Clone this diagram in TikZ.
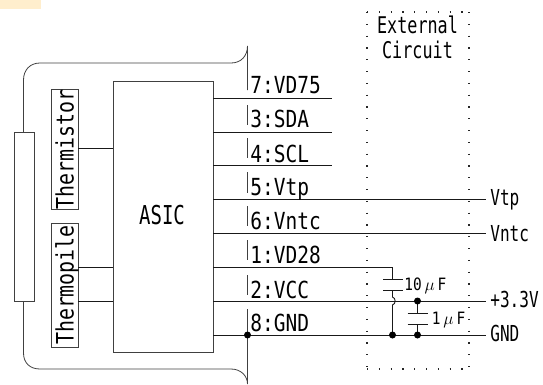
\documentclass[tikz,border=0pt]{standalone}
\usepackage{fontspec}
\newfontfamily\wideg[FakeStretch=0.83]{DejaVu Sans Mono}
\newfontfamily\narrowg[FakeStretch=0.73]{DejaVu Sans Mono}
\newfontfamily\capg[FakeStretch=0.85]{DejaVu Sans Mono}
\definecolor{tabcol}{RGB}{255,238,205}
\begin{document}
\begin{tikzpicture}[x=1pt,y=-1pt,line width=0.8pt,
  box/.style={draw=black!75,line width=0.9pt,fill=white},
  wire/.style={draw=black!90,line width=0.9pt},
  pin/.style={inner sep=0pt,anchor=base west,font=\wideg\fontsize{23.5}{23.5}\selectfont},
  extl/.style={inner sep=0pt,anchor=base west,font=\narrowg\fontsize{22}{22}\selectfont},
  sens/.style={inner sep=0pt,anchor=base,rotate=90,font=\wideg\fontsize{24}{24}\selectfont},
  dotj/.style={circle,fill=black,inner sep=0pt,minimum size=7pt},
  frame/.style={draw=black!75,line width=0.8pt},
  ext/.style={draw=black!85,line width=1.2pt,dash pattern=on 1.2pt off 10.6pt}]
\useasboundingbox (0,0) rectangle (543,384);
\fill[tabcol] (0,0) rectangle (41,9);
% housing
\coordinate (ht) at (23.5,132);
\coordinate (hb) at (23.5,301);
\draw[frame] (ht) -- (23.5,80) .. controls (23.5,70) and (30,63) .. (40,63) -- (231,63) .. controls (241,63) and (247.5,56) .. (247.5,46) -- (247.5,90);
\draw[frame] (hb) -- (23.5,353) .. controls (23.5,363) and (30,369) .. (40,369) -- (231,369) .. controls (241,369) and (247.5,376) .. (247.5,384) -- (247.5,309);
\foreach \a/\b in {105/125,138/158,172/193,206/226,240/260,275/295} \draw[frame] (247.5,\a) -- (247.5,\b);
\node[box,minimum width=20pt,minimum height=169pt,inner sep=0pt,anchor=north west] (lens) at (14,132) {};
\node[box,minimum width=100.5pt,minimum height=271.5pt,inner sep=0pt,anchor=north west] (asic) at (112.5,80.5) {};
\node[font=\narrowg\fontsize{26}{26}\selectfont,inner sep=0pt,anchor=base] at (162,224) {ASIC};
\node[box,minimum width=27pt,minimum height=120pt,inner sep=0pt,anchor=north west] (tr) at (51,89) {};
\node[box,minimum width=27pt,minimum height=124pt,inner sep=0pt,anchor=north west] (tp) at (51,223) {};
\node[sens] at (73.5,149.5) {Thermistor};
\node[sens] at (73.5,285) {Thermopile};
\foreach \y in {148,267,301} \draw[wire] (78,\y) -- (112.5,\y);
% pins
\foreach \y/\e in {98/332,132/332,165/332,199/486,233/486,267/392.5,301/486,335/486} \draw[wire] (213,\y) -- (\e,\y);
\foreach \t/\y in {7:VD75/93,3:SDA/127,4:SCL/162,5:Vtp/195,6:Vntc/229,1:VD28/263,2:VCC/298,8:GND/331}
  \node[pin] at (250,\y) {\t};
% external circuit
\draw[ext] (367,12) -- (469,12);
\draw[ext] (367,369) -- (469,369);
\draw[ext] (367,12) -- (367,369);
\draw[ext] (469,12) -- (469,369);
\node[font=\narrowg\fontsize{23}{23}\selectfont,inner sep=0pt,anchor=base] at (417.5,33) {External};
\node[font=\narrowg\fontsize{23}{23}\selectfont,inner sep=0pt,anchor=base] at (417.5,58) {Circuit};
% capacitors
\coordinate (c1t) at (392.5,279);
\coordinate (c1b) at (392.5,290);
\coordinate (c2t) at (417.5,313);
\coordinate (c2b) at (417.5,324);
\draw[wire] (392.5,267) -- (c1t);
\draw[wire] (383,279) -- (403,279);
\draw[wire] (383,290) -- (403,290);
\draw[wire] (c1b) -- (392.5,297) .. controls (396,298) and (396,304) .. (392.5,305) -- (392.5,335);
\draw[wire] (417.5,301) -- (c2t);
\draw[wire] (407.5,313) -- (427.5,313);
\draw[wire] (407.5,324) -- (427.5,324);
\draw[wire] (c2b) -- (417.5,335);
\node[dotj] at (247.5,335) {};
\node[dotj] at (392.5,335) {};
\node[dotj] at (417.5,335) {};
\node[dotj] at (417.5,301) {};
\node[inner sep=0pt,anchor=base west,font=\capg\fontsize{17}{17}\selectfont] at (404,290) {10$\,\mu\,$F};
\node[inner sep=0pt,anchor=base west,font=\capg\fontsize{17}{17}\selectfont] at (431.5,324) {1$\,\mu\,$F};
\foreach \t/\y in {Vtp/205,Vntc/241,+3.3V/307,GND/341}
  \node[extl] at (490,\y) {\t};
\end{tikzpicture}
\end{document}
